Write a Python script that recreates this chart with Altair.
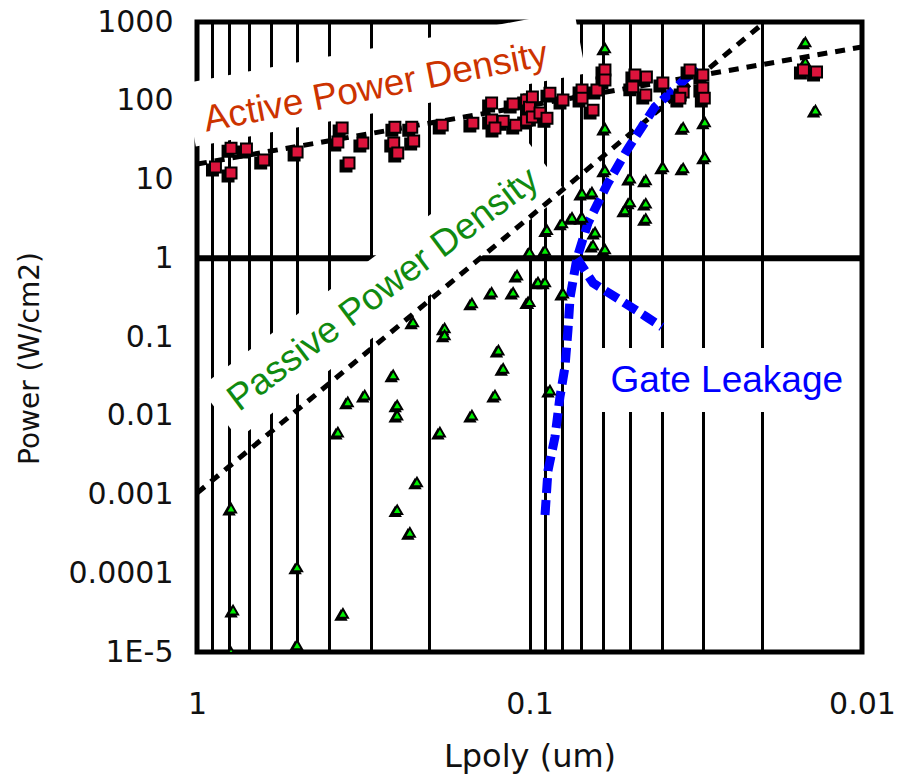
import altair as alt
import pandas as pd

# ---- data ----
active_L = [0.88, 0.79, 0.79, 0.71, 0.63, 0.50, 0.366, 0.377, 0.349, 0.317,
            0.254, 0.256, 0.249, 0.226, 0.223, 0.183, 0.148, 0.130, 0.130, 0.120,
            0.127, 0.112, 0.110, 0.102, 0.102, 0.100, 0.098, 0.093, 0.0886, 0.0868,
            0.0793, 0.0695, 0.0695, 0.0644, 0.0627, 0.0593, 0.0593, 0.0482, 0.0489, 0.0447,
            0.0445, 0.0397, 0.0345, 0.0353, 0.0301, 0.0298, 0.0329, 0.0301, 0.0150, 0.0137,
            0.098]
active_P = [14.4, 12.1, 25, 24.4, 17.7, 22.3, 45, 30, 16.2, 29,
            46, 29, 21.7, 46, 30.8, 49, 52, 93.6, 57, 55,
            45, 91, 49, 102, 57, 83, 62, 70, 60, 125,
            102, 137, 108, 76, 137, 246, 183, 212, 150, 118,
            200, 168, 129, 108, 145, 108, 246, 212, 246, 232,
            112]

passive_L = [0.0593, 0.0593, 0.0345, 0.0297, 0.0297, 0.0397, 0.0345, 0.0593, 0.0649, 0.0695,
             0.0499, 0.0447, 0.0499, 0.0516, 0.0447, 0.0447, 0.0148, 0.0148, 0.0138, 0.0886,
             0.0798, 0.0745, 0.0695, 0.0635, 0.0644, 0.0593, 0.100, 0.0898, 0.224, 0.180,
             0.180, 0.149, 0.130, 0.109, 0.112, 0.101, 0.257, 0.313, 0.352, 0.250,
             0.250, 0.124, 0.120, 0.127, 0.149, 0.377, 0.186, 0.0943, 0.0898, 0.100,
             0.0793, 0.0868, 0.79, 0.50, 0.779, 0.50, 0.79, 0.364, 0.218, 0.250,
             0.229]
passive_P = [468, 45, 46, 54, 19.3, 14.4, 14, 13.2, 6.9, 6.7,
             10.4, 9.9, 5.2, 4.1, 5.0, 3.2, 557, 310, 76, 2.3,
             2.8, 3.3, 3.3, 2.15, 1.47, 1.31, 1.2, 1.26, 0.155, 0.130,
             0.106, 0.27, 0.37, 0.61, 0.37, 0.28, 0.033, 0.0183, 0.015, 0.0137,
             0.0102, 0.068, 0.040, 0.0183, 0.0102, 0.0062, 0.0062, 0.50, 0.50, 0.28,
             0.36, 0.0212, 0.00067, 0.00012, 3.4e-5, 1.23e-5, 1.0e-5, 3.1e-5, 0.00144, 0.00064,
             0.00033]

gate_L = [0.0898, 0.0880, 0.0838, 0.0810, 0.0782, 0.0766, 0.0755, 0.0720, 0.0667, 0.0581,
          0.0509, 0.0420, 0.0313]
gate_P = [0.00055, 0.0020, 0.0054, 0.0173, 0.042, 0.123, 0.32, 1.0, 2.8, 9.0,
          23.7, 83, 261]
gate_branch_L = [0.0720, 0.0644, 0.0534, 0.0445, 0.040]
gate_branch_P = [1.0, 0.485, 0.295, 0.18, 0.134]

active_trend_L = [1.0, 0.01]
active_trend_P = [15.7, 482]
passive_trend_L = [1.0, 0.0196]
passive_trend_P = [0.00104, 1000]

x_grid = [1, 0.9, 0.8, 0.7, 0.6, 0.5, 0.4, 0.3, 0.2, 0.1,
          0.09, 0.08, 0.07, 0.06, 0.05, 0.04, 0.03, 0.02, 0.01]
x_labeled = [1, 0.1, 0.01]
x_labels = ["1", "0.1", "0.01"]
y_ticks = [1000, 100, 10, 1, 0.1, 0.01, 0.001, 0.0001, 1e-5]
y_labels = ["1000", "100", "10", "1", "0.1", "0.01", "0.001", "0.0001", "1E-5"]

ann_text = ["Active Power Density", "Passive Power Density", "Gate Leakage"]
ann_L = [0.29, 0.275, 0.0255]
ann_P = [147, 0.40, 0.0276]
ann_angle = [349, 323, 0]
ann_color = ["#cc3300", "#108a10", "#0000ff"]

# white label boxes behind the annotations (start / end of each box)
box_L = [1.05, 0.0705, 0.859, 0.0886, 0.0622, 0.0109]
box_P = [65.9, 557, 0.0108, 14.4, 0.0284, 0.0284]
box_id = ["a", "a", "p", "p", "g", "g"]

# ---- tables ----
active = pd.DataFrame({"L": active_L, "P": active_P})
passive = pd.DataFrame({"L": passive_L, "P": passive_P})
gate = pd.DataFrame({"L": gate_L + gate_branch_L, "P": gate_P + gate_branch_P,
                     "s": ["a"] * len(gate_L) + ["b"] * len(gate_branch_L),
                     "i": list(range(len(gate_L))) + list(range(len(gate_branch_L)))})
trend = pd.DataFrame({"L": active_trend_L + passive_trend_L,
                      "P": active_trend_P + passive_trend_P,
                      "s": ["a", "a", "p", "p"]})
ann = pd.DataFrame({"t": ann_text, "L": ann_L, "P": ann_P, "a": ann_angle, "c": ann_color})
boxes = pd.DataFrame({"L": box_L, "P": box_P, "s": box_id, "i": [0, 1, 0, 1, 0, 1]})
one = pd.DataFrame({"P": [1.0]})

FONT = "Liberation Sans"
AXFONT = "DejaVu Sans"

x_label_expr = "[" + ",".join("'%s'" % s for s in x_labels) + "][indexof([" + \
    ",".join(repr(v) for v in x_labeled) + "], datum.value)] || ''"
y_label_expr = "[" + ",".join("'%s'" % s for s in y_labels) + "][indexof([" + \
    ",".join(repr(v) for v in y_ticks) + "], datum.value)]"

xscale = alt.Scale(type="log", domain=[0.01, 1], reverse=True, nice=False)
yscale = alt.Scale(type="log", domain=[1e-5, 1000], nice=False)

xaxis = alt.Axis(values=x_grid, labelExpr=x_label_expr, grid=True, gridColor="black",
                 gridWidth=3, gridOpacity=1, ticks=False, tickSize=0, domain=False,
                 labelFont=AXFONT, labelFontSize=30, labelColor="#111111", labelPadding=37,
                 labelFlush=False, labelOverlap=False,
                 title="Lpoly (um)", titleFont=AXFONT, titleFontSize=32,
                 titleFontWeight="normal", titleColor="#111111", titleBaseline="middle",
                 titleY=104)
yaxis = alt.Axis(values=y_ticks, labelExpr=y_label_expr, grid=False, ticks=False,
                 tickSize=0, domain=False, labelFont=AXFONT, labelFontSize=30,
                 labelColor="#111111", labelPadding=24, labelOverlap=False, labelFlush=False,
                 title="Power (W/cm2)", titleFont=AXFONT, titleFontSize=28,
                 titleFontWeight="normal", titleColor="#111111", titleAngle=270,
                 titleAlign="center", titleBaseline="middle", titleX=-167, titleY=336)


def X():
    return alt.X("L:Q", scale=xscale, axis=xaxis)


def Y():
    return alt.Y("P:Q", scale=yscale, axis=yaxis)


rule = alt.Chart(one).mark_rule(color="black", strokeWidth=6).encode(y=Y())

box_layer = alt.Chart(boxes).mark_line(color="white", strokeWidth=64, strokeCap="butt",
                                       opacity=1, clip=False).encode(
    x=X(), y=Y(), detail="s:N", order="i:Q")

trend_lines = alt.Chart(trend).mark_line(color="black", strokeWidth=5,
                                         strokeDash=[10, 8], clip=True).encode(
    x=X(), y=Y(), detail="s:N")

gate_lines = alt.Chart(gate).mark_line(color="#0000ff", strokeWidth=9,
                                       strokeDash=[15, 7], clip=True).encode(
    x=X(), y=Y(), detail="s:N", order="i:Q")

green_shadow = alt.Chart(passive).mark_point(shape="triangle-up", filled=True, fill="black",
                                             stroke="black", strokeWidth=2, size=100, opacity=1,
                                             xOffset=-2, yOffset=2, clip=True).encode(x=X(), y=Y())
green = alt.Chart(passive).mark_point(shape="triangle-up", filled=True, fill="#00ee00",
                                      stroke="black", strokeWidth=2, size=100, opacity=1,
                                      clip=True).encode(x=X(), y=Y())

red_shadow = alt.Chart(active).mark_point(shape="square", filled=True, fill="black",
                                          stroke="black", strokeWidth=2, size=120, opacity=1,
                                          xOffset=-3, yOffset=3, clip=True).encode(x=X(), y=Y())
red = alt.Chart(active).mark_point(shape="square", filled=True, fill="#dc143c",
                                   stroke="black", strokeWidth=2, size=120, opacity=1,
                                   clip=True).encode(x=X(), y=Y())

labels = alt.Chart(ann).mark_text(font=FONT, fontSize=37, align="center",
                                  baseline="middle").encode(
    x=X(), y=Y(), text="t:N", angle=alt.Angle("a:Q", scale=None),
    color=alt.Color("c:N", scale=None))

chart = alt.layer(rule, box_layer, trend_lines, gate_lines, green_shadow, green,
                  red_shadow, red, labels).properties(
    width=665, height=630,
    padding={"left": 197, "top": 22, "right": 38, "bottom": 123},
    autosize=alt.AutoSizeParams(type="none"),
    background="white",
).configure_view(stroke="black", strokeWidth=5)

chart.save("out.html", embed_options={"renderer": "svg", "actions": False})
